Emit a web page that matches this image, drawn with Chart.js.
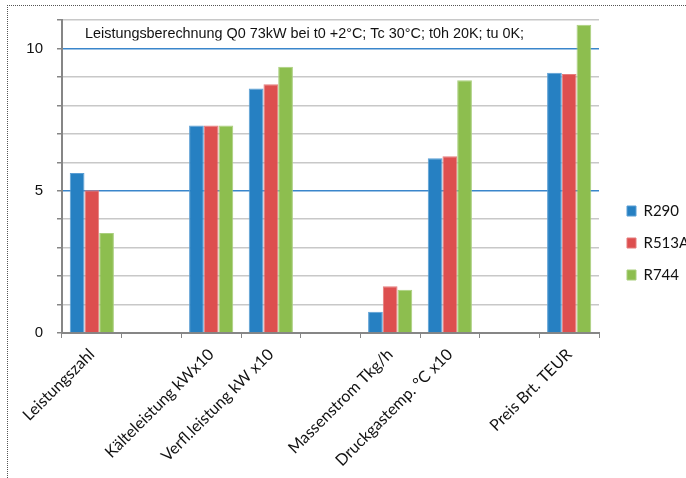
<!DOCTYPE html>
<html><head><meta charset="utf-8">
<script src="https://cdn.jsdelivr.net/npm/chart.js@4/dist/chart.umd.min.js"></script>
<style>
html,body{margin:0;padding:0;background:#fff;overflow:hidden;width:686px;height:478px;}
#frame{position:absolute;left:7px;top:5px;width:740px;height:520px;border-left:1px dotted #555;border-top:1px dotted #555;}
#wrap{position:absolute;left:0;top:0;width:700px;height:472px;}
</style></head><body>
<div id="frame"><div id="wrap"><canvas id="c" width="700" height="472"></canvas></div></div>
<script>
const categories = ['Leistungszahl', '', 'Kälteleistung kWx10', 'Verfl.leistung kW x10', '', 'Massenstrom Tkg/h', 'Druckgastemp. °C x10', '', 'Preis Brt. TEUR'];
const seriesNames = ['R290', 'R513A', 'R744'];
const r290  = [5.62, null, 7.29, 8.59, null, 0.75, 6.14, null, 9.15];
const r513a = [5.02, null, 7.29, 8.74, null, 1.64, 6.21, null, 9.10];
const r744  = [3.51, null, 7.29, 9.36, null, 1.52, 8.88, null, 10.83];
const yTickLabels = ['0', '5', '10'];
const titleText = 'Leistungsberechnung Q0 73kW bei t0 +2°C; Tc 30°C; t0h 20K; tu 0K;';

const colors = ['#2680C2', '#DD4F4F', '#8DBE4F'];
const borders = ['#5A9ED4', '#E57C7C', '#AACF7E'];

const titlePlugin = {
  id: 'boxTitle',
  afterDatasetsDraw(chart) {
    const {ctx, chartArea, scales} = chart;
    const base = scales.y.getPixelForValue(10) - 10.5;
    ctx.save();
    ctx.beginPath();
    ctx.rect(0, 0, chart.width, base + 2.5);
    ctx.clip();
    ctx.font = '14.4px "Liberation Sans"';
    ctx.fillStyle = '#111';
    ctx.textBaseline = 'alphabetic';
    ctx.textAlign = 'left';
    ctx.fillText(titleText, chartArea.left + 23, base);
    ctx.restore();
  }
};

new Chart(document.getElementById('c'), {
  type: 'bar',
  data: {
    labels: categories,
    datasets: [r290, r513a, r744].map((d, i) => ({
      label: seriesNames[i],
      data: d,
      backgroundColor: colors[i],
      borderColor: borders[i],
      borderWidth: 1,
      categoryPercentage: 0.74,
      barPercentage: 1.0
    }))
  },
  options: {
    responsive: false,
    animation: false,
    layout: {padding: {left: 14, right: 18, top: 14, bottom: 12}},
    scales: {
      x: {
        grid: {display: true, drawOnChartArea: false, drawTicks: true, tickLength: 5, tickColor: '#868686', lineWidth: 1, offset: true},
        border: {color: '#868686', width: 2},
        ticks: {font: {family: 'Lato', size: 16}, color: '#111', minRotation: 45, maxRotation: 45, autoSkip: false, padding: 7},
        afterFit: s => { s.height = 133; }
      },
      y: {
        min: 0, max: 11,
        ticks: {stepSize: 1, autoSkip: false, padding: 14, color: '#111',
          font: {family: 'Liberation Sans', size: 15},
          callback: v => yTickLabels.includes(String(v)) ? String(v) : ''},
        grid: {
          color: c => (c.tick && (c.tick.value === 5 || c.tick.value === 10)) ? '#3A86CB' : '#C8C8C8',
          lineWidth: 1.5, tickLength: 5, tickColor: '#868686'
        },
        border: {color: '#868686', width: 2},
        afterFit: s => { s.width = 40; s.paddingTop = 0; s.paddingBottom = 0; }
      },
      y2: {
        position: 'right', display: true,
        grid: {display: false}, ticks: {display: false}, border: {display: false},
        afterFit: s => { s.width = 11; }
      }
    },
    plugins: {
      legend: {
        position: 'right', align: 'center', maxWidth: 80,
        labels: {boxWidth: 9, boxHeight: 10, padding: 17, color: '#111', font: {family: 'Lato', size: 15}}
      },
      tooltip: {enabled: false}
    }
  },
  plugins: [titlePlugin]
});
</script>
</body></html>
